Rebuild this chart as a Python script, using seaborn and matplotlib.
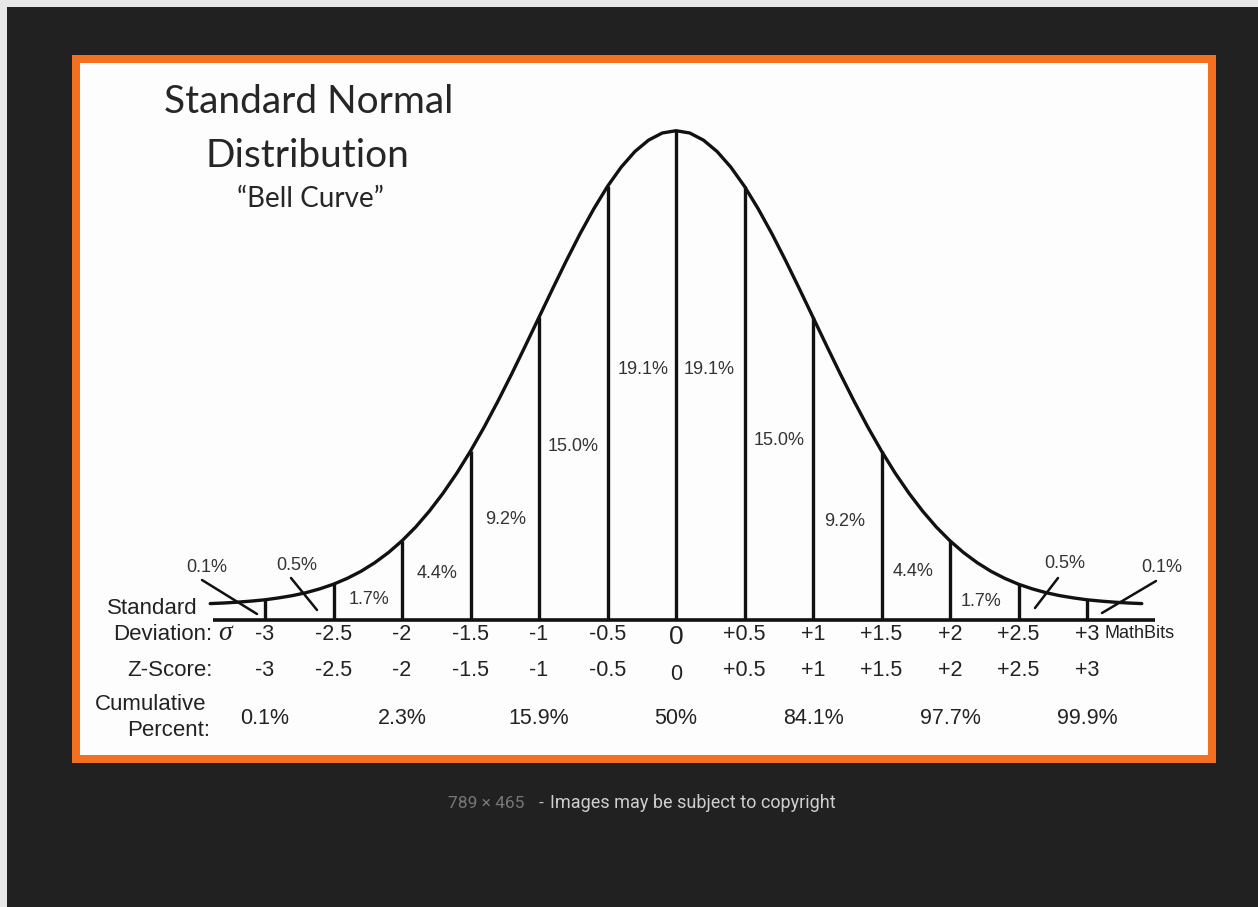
import matplotlib
matplotlib.use("Agg")
import matplotlib.pyplot as plt
import seaborn as sns
import pandas as pd
from matplotlib.patches import Rectangle

# ---------------- data ----------------
z_points = [round(-3.4 + 0.1 * i, 1) for i in range(69)]
curve_height = [
    0.0138, 0.0143, 0.0150, 0.0159, 0.0170, 0.0186, 0.0205, 0.0230, 0.0262, 0.0301,
    0.0350, 0.0409, 0.0481, 0.0566, 0.0666, 0.0782, 0.0916, 0.1067, 0.1235, 0.1421,
    0.1623, 0.1840, 0.2068, 0.2305, 0.2546, 0.2787, 0.3023, 0.3249, 0.3458, 0.3647,
    0.3809, 0.3940, 0.4036, 0.4096, 0.4115, 0.4096, 0.4036, 0.3940, 0.3809, 0.3647,
    0.3458, 0.3249, 0.3023, 0.2787, 0.2546, 0.2305, 0.2068, 0.1840, 0.1623, 0.1421,
    0.1235, 0.1067, 0.0916, 0.0782, 0.0666, 0.0566, 0.0481, 0.0409, 0.0350, 0.0301,
    0.0262, 0.0230, 0.0205, 0.0186, 0.0170, 0.0159, 0.0150, 0.0143, 0.0138,
]
sd_values = [-3, -2.5, -2, -1.5, -1, -0.5, 0, 0.5, 1, 1.5, 2, 2.5, 3]
sd_labels = ["-3", "-2.5", "-2", "-1.5", "-1", "-0.5", "0", "+0.5", "+1", "+1.5", "+2", "+2.5", "+3"]
z_labels = ["-3", "-2.5", "-2", "-1.5", "-1", "-0.5", "0", "+0.5", "+1", "+1.5", "+2", "+2.5", "+3"]
band_percent = ["0.1%", "0.5%", "1.7%", "4.4%", "9.2%", "15.0%", "19.1%",
                "19.1%", "15.0%", "9.2%", "4.4%", "1.7%", "0.5%", "0.1%"]
cum_z = [-3, -2, -1, 0, 1, 2, 3]
cum_labels = ["0.1%", "2.3%", "15.9%", "50%", "84.1%", "97.7%", "99.9%"]

# ---------------- layout helpers (pixel -> data) ----------------
W, H = 1258, 907
X0, SX = 676, 137.0     # pixel x of z=0, pixels per z unit
Y0, SY = 620, 1189.0    # pixel y of baseline, pixels per density unit

def X(px):
    return (px - X0) / SX

def Y(py):
    return (Y0 - py) / SY

sns.set_style("white")
plt.rcParams["font.family"] = ["Liberation Sans", "DejaVu Sans"]

fig = plt.figure(figsize=(W / 100, H / 100), dpi=100)
fig.patch.set_facecolor("#212121")

def frect(x0, y0, x1, y1, color):
    fig.patches.append(Rectangle((x0 / W, 1 - y1 / H), (x1 - x0) / W, (y1 - y0) / H,
                                 transform=fig.transFigure, facecolor=color,
                                 edgecolor="none", zorder=-1))

frect(0, 0, W, 7, "#e8e8e8")
frect(0, 0, 7, H, "#e8e8e8")
frect(72, 55, 1216, 763, "#f36f21")
frect(80, 63, 1208, 755, "#fdfdfd")

ax = fig.add_axes([80 / W, 1 - 755 / H, 1128 / W, 692 / H])
ax.set_zorder(3)
ax.set_xlim(X(80), X(1208))
ax.set_ylim(Y(755), Y(63))
ax.set_axis_off()

df = pd.DataFrame({"z": z_points, "h": curve_height})
sns.lineplot(data=df, x="z", y="h", ax=ax, color="#111111", lw=2.4)

# vertical boundaries
for v in sd_values:
    idx = int(round((v + 3.4) * 10))
    ax.vlines(v, 0, curve_height[idx], color="#111111", lw=2.4)
ax.hlines(0, X(213), X(1155), color="#111111", lw=2.6)

# band percentages (pixel positions)
band_pos = [(207, 568), (297, 565), (369, 600), (437, 574), (506, 520), (573, 446), (643, 370),
            (709, 370), (779, 440), (845, 522), (913, 572), (981, 602), (1065, 563), (1162, 568)]
for lab, (px, py) in zip(band_percent, band_pos):
    ax.text(X(px), Y(py), lab, ha="center", va="center", fontsize=13, color="#333333")

# leader lines
for (ax0, ay0, ax1, ay1) in [(202, 580, 257, 614), (291, 578, 317, 610),
                             (1058, 578, 1035, 608), (1156, 581, 1102, 613)]:
    ax.plot([X(ax0), X(ax1)], [Y(ay0), Y(ay1)], color="#111111", lw=1.8)

# row 1: standard deviation
for v, lab in zip(sd_values, sd_labels):
    if lab == "0":
        ax.text(v, Y(637), lab, ha="center", va="center", fontsize=19, color="#222222")
    else:
        ax.text(v, Y(634), lab, ha="center", va="center", fontsize=15.5, color="#222222")
ax.text(X(1104), Y(633), "MathBits", ha="left", va="center", fontsize=13, color="#222222")

# row 2: z-score
for v, lab in zip(sd_values, z_labels):
    ax.text(v, Y(675 if lab == "0" else 671), lab, ha="center", va="center",
            fontsize=15.5, color="#222222")

# row 3: cumulative percent
for v, lab in zip(cum_z, cum_labels):
    ax.text(v, Y(718), lab, ha="center", va="center", fontsize=15.5, color="#222222")

# row titles
ax.text(X(152), Y(608), "Standard", ha="center", va="center", fontsize=16, color="#222222")
ax.text(X(212), Y(635), "Deviation:", ha="right", va="center", fontsize=16, color="#222222")
ax.text(X(225), Y(633), "σ", ha="center", va="center", fontsize=20, style="italic",
        family=["Liberation Serif", "DejaVu Serif"], color="#222222")
ax.text(X(213), Y(671), "Z-Score:", ha="right", va="center", fontsize=16, color="#222222")
ax.text(X(151), Y(705), "Cumulative", ha="center", va="center", fontsize=16, color="#222222")
ax.text(X(210), Y(730), "Percent:", ha="right", va="center", fontsize=16, color="#222222")

# title
ax.text(X(309), Y(102), "Standard Normal", ha="center", va="center", fontsize=28,
        family=["Lato", "DejaVu Sans"], color="#262626")
ax.text(X(307), Y(156), "Distribution", ha="center", va="center", fontsize=28,
        family=["Lato", "DejaVu Sans"], color="#262626")
ax.text(X(310), Y(199), "“Bell Curve”", ha="center", va="center", fontsize=20,
        family=["Lato", "DejaVu Sans"], color="#262626")

# caption
fig.text(448 / W, 1 - 803 / H, "789 × 465", ha="left", va="center", fontsize=12.5,
         family=["Roboto", "DejaVu Sans"], color="#777777")
fig.text(541 / W, 1 - 803 / H, "-", ha="center", va="center", fontsize=12.5,
         family=["Roboto", "DejaVu Sans"], color="#bbbbbb")
fig.text(550 / W, 1 - 803 / H, "Images may be subject to copyright", ha="left", va="center",
         fontsize=13, family=["Roboto", "DejaVu Sans"], color="#cfcfcf")

fig.savefig("out.png", dpi=100, facecolor=fig.get_facecolor())
